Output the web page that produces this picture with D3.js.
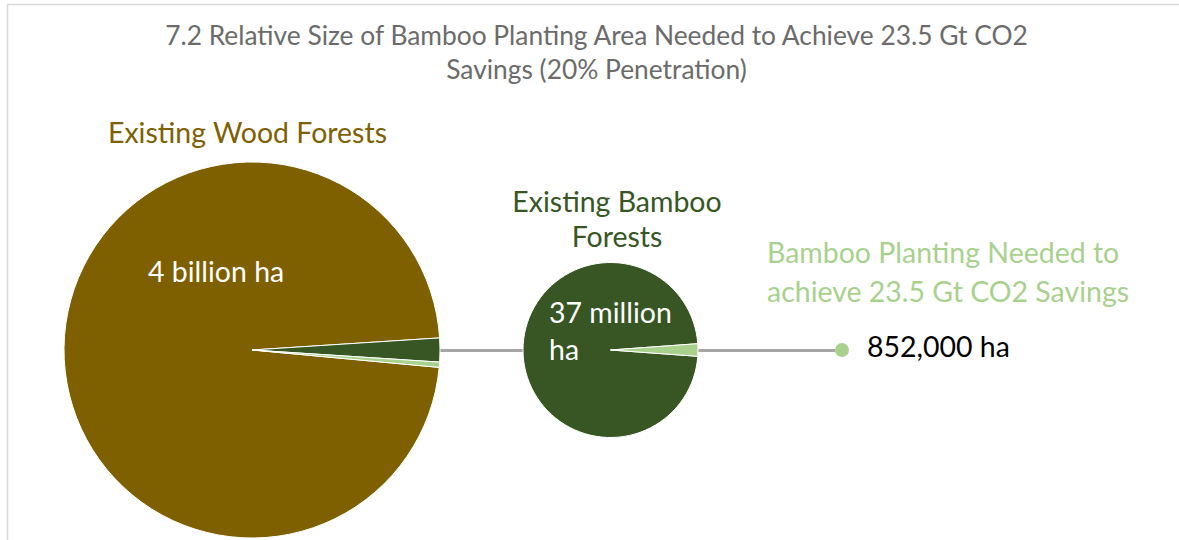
<!DOCTYPE html>
<html>
<head>
<meta charset="utf-8">
<script src="https://cdn.jsdelivr.net/npm/d3@7"></script>
<style>
  body { margin: 0; background: #fff; }
  text { font-family: Lato, "Open Sans", sans-serif; }
</style>
</head>
<body>
<svg id="chart" width="1179" height="540"></svg>
<script>
// names of the three areas and the labels printed on the chart
let sliceNames = ['Existing Wood Forests', 'Existing Bamboo Forests', 'Bamboo Planting Needed to achieve 23.5 Gt CO2 Savings'];
let areaLabels = ['4 billion ha', '37 million ha', '852,000 ha'];
let sliceColors = ['#7f6000', '#375623', '#a9d18e'];

// shares (%) of each pie as drawn in the picture
let woodPieShares = [97.5, 2.05, 0.45];   // wood, bamboo, planting
let bambooPieShares = [97.7, 2.3];        // bamboo, planting
let plantingPieShares = [100];            // planting

let titleLines = ['7.2 Relative Size of Bamboo Planting Area Needed to Achieve 23.5 Gt CO2', 'Savings (20% Penetration)'];

let svg = d3.select('#chart');

// frame
svg.append('path')
  .attr('d', 'M7.5,540 V4.5 H1179')
  .attr('fill', 'none')
  .attr('stroke', '#d9d9d9')
  .attr('stroke-width', 1.5);

// sizes a text so it covers the given width
function fitText(sel, w) {
  sel.style('font-size', '100px');
  let len = sel.node().getComputedTextLength();
  let size = 100 * w / len;
  sel.style('font-size', size + 'px');
  return size;
}

// centred pie; the slice at index `focus` is centred on the horizontal line to the right
function drawPie(g, shares, colors, cx, cy, r, focus) {
  let total = d3.sum(shares);
  let ang = shares.map(d => d / total * 2 * Math.PI);
  let start = Math.PI / 2 - ang[focus] / 2 - d3.sum(ang.slice(0, focus));
  let pie = d3.pie().sort(null).startAngle(start).endAngle(start + 2 * Math.PI);
  let arc = d3.arc().innerRadius(0).outerRadius(r);
  g.attr('transform', 'translate(' + cx + ',' + cy + ')')
    .selectAll('path')
    .data(pie(shares))
    .join('path')
    .attr('d', arc)
    .attr('fill', (d, i) => colors[i])
    .attr('stroke', shares.length > 1 ? '#fff' : 'none')
    .attr('stroke-width', 1)
    .attr('stroke-linejoin', 'miter')
    .attr('stroke-miterlimit', 30);
}

let pies = [
  { shares: woodPieShares, colors: sliceColors, cx: 252, cy: 350, r: 188, focus: 1 },
  { shares: bambooPieShares, colors: sliceColors.slice(1), cx: 610.5, cy: 350, r: 87.5, focus: 1 },
  { shares: plantingPieShares, colors: sliceColors.slice(2), cx: 842, cy: 350, r: 7, focus: 0 }
];

// connector lines between the pies
for (let i = 0; i < pies.length - 1; i++) {
  let a = pies[i], b = pies[i + 1];
  svg.append('line')
    .attr('x1', a.cx + a.r).attr('x2', b.cx - b.r)
    .attr('y1', a.cy + 0.5).attr('y2', b.cy + 0.5)
    .attr('stroke', '#a6a6a6')
    .attr('stroke-width', 3);
}

pies.forEach(p => {
  drawPie(svg.append('g'), p.shares, p.colors, p.cx, p.cy, p.r, p.focus);
});

// title
let t1 = svg.append('text').attr('x', 596.5).attr('y', 45).attr('text-anchor', 'middle')
  .attr('fill', '#6b6b6b').text(titleLines[0]);
let titleSize = fitText(t1, 863);
svg.append('text').attr('x', 596.5).attr('y', 79).attr('text-anchor', 'middle')
  .attr('fill', '#6b6b6b').style('font-size', titleSize + 'px').text(titleLines[1]);

// series names, all in the size of the first one
let first = svg.append('text').attr('x', 108).attr('y', 143).attr('fill', sliceColors[0]).text(sliceNames[0]);
let labelSize = fitText(first, 279);

function label(x, y, str, color, anchor) {
  return svg.append('text').attr('x', x).attr('y', y)
    .attr('text-anchor', anchor || 'start')
    .attr('fill', color)
    .style('font-size', labelSize + 'px')
    .text(str);
}

label(617, 212, 'Existing Bamboo', sliceColors[1], 'middle');
label(617, 247, 'Forests', sliceColors[1], 'middle');
label(767, 263, 'Bamboo Planting Needed to', sliceColors[2]);
label(767, 302, 'achieve 23.5 Gt CO2 Savings', sliceColors[2]);

// area values
label(148, 282, areaLabels[0], '#fff');
label(549, 323, '37 million', '#fff');
label(549, 360, 'ha', '#fff');
label(867, 357, areaLabels[2], '#000');
</script>
</body>
</html>
